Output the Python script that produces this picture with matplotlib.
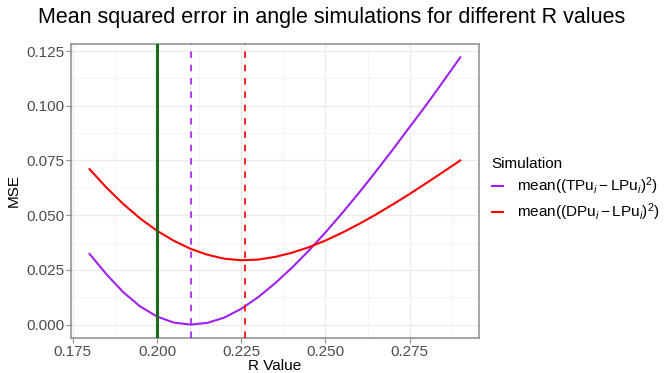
import matplotlib
matplotlib.use('Agg')
import matplotlib.pyplot as plt
from matplotlib.lines import Line2D

plt.rcParams['font.family'] = ['Liberation Sans', 'DejaVu Sans']
plt.rcParams['mathtext.fontset'] = 'custom'
plt.rcParams['mathtext.rm'] = 'Liberation Sans'
plt.rcParams['mathtext.it'] = 'Liberation Sans:italic'

# R values and MSE
r_values = [0.180, 0.185, 0.190, 0.195, 0.200, 0.205, 0.210, 0.215, 0.220, 0.225,
            0.230, 0.235, 0.240, 0.245, 0.250, 0.255, 0.260, 0.265, 0.270, 0.275,
            0.280, 0.285, 0.290]
mse_tp = [0.0323, 0.0230, 0.0148, 0.0083, 0.0037, 0.0009, 0.0000, 0.0008, 0.0032, 0.0072,
          0.0125, 0.0188, 0.0259, 0.0337, 0.0421, 0.0510, 0.0603, 0.0700, 0.0800, 0.0903,
          0.1005, 0.1112, 0.1221]
mse_dp = [0.0710, 0.0626, 0.0551, 0.0485, 0.0429, 0.0383, 0.0346, 0.0319, 0.0301, 0.0294,
          0.0297, 0.0309, 0.0328, 0.0353, 0.0384, 0.0420, 0.0460, 0.0503, 0.0549, 0.0597,
          0.0647, 0.0698, 0.0750]

r_true = 0.200
r_best_tp = 0.210
r_best_dp = 0.226

x_ticks = [0.175, 0.200, 0.225, 0.250, 0.275]
y_ticks = [0.000, 0.025, 0.050, 0.075, 0.100, 0.125]

purple = '#A020F0'
red = '#FF0000'

fig = plt.figure(figsize=(6.64, 3.73), dpi=100)
ax = fig.add_axes([0.107, 0.094, 0.614, 0.788])

ax.plot(r_values, mse_tp, color=purple, lw=1.5, solid_joinstyle='round', zorder=3)
ax.plot(r_values, mse_dp, color=red, lw=1.5, solid_joinstyle='round', zorder=3)

ax.axvline(r_true, color='#1B6B1B', lw=2.2, zorder=4)
ax.axvline(r_best_tp, color=purple, lw=1.2, ls=(0, (4, 4)), zorder=4)
ax.axvline(r_best_dp, color=red, lw=1.2, ls=(0, (4, 4)), zorder=4)

ax.set_xlim(0.1745, 0.2955)
ax.set_ylim(-0.0061, 0.1282)
ax.set_xticks(x_ticks)
ax.set_xticklabels([f'{t:.3f}' for t in x_ticks])
ax.set_yticks(y_ticks)
ax.set_yticklabels([f'{t:.3f}' for t in y_ticks])
ax.set_xticks([0.1875, 0.2125, 0.2375, 0.2625, 0.2875], minor=True)
ax.set_yticks([0.0125, 0.0375, 0.0625, 0.0875, 0.1125], minor=True)

ax.grid(which='major', color='#EBEBEB', lw=0.9, zorder=0)
ax.grid(which='minor', color='#F3F3F3', lw=0.6, zorder=0)
ax.set_axisbelow(True)

for s in ax.spines.values():
    s.set_color('#8C8C8C')
    s.set_linewidth(1.1)
ax.tick_params(which='major', length=3.5, width=0.8, color='#8C8C8C',
               labelcolor='#4D4D4D', labelsize=11, pad=1.5)
ax.tick_params(which='minor', length=0)

ax.set_xlabel('R Value', fontsize=11, labelpad=0)
ax.set_ylabel('MSE', fontsize=11, labelpad=4)

fig.suptitle('Mean squared error in angle simulations for different R values',
             fontsize=15.5, x=0.5, y=0.98)

handles = [Line2D([], [], color=purple, lw=1.5),
           Line2D([], [], color=red, lw=1.5)]
labels = [r'$\mathrm{mean((TPu}_i - \mathrm{LPu}_i)^2)$',
          r'$\mathrm{mean((DPu}_i - \mathrm{LPu}_i)^2)$']
leg = fig.legend(handles, labels, title='Simulation', loc='center left',
                 bbox_to_anchor=(0.72, 0.49), frameon=False, fontsize=11,
                 title_fontsize=11, handlelength=0.75, handletextpad=0.9,
                 labelspacing=0.3)
leg._legend_box.align = 'left'

fig.savefig('out.png', dpi=100)
